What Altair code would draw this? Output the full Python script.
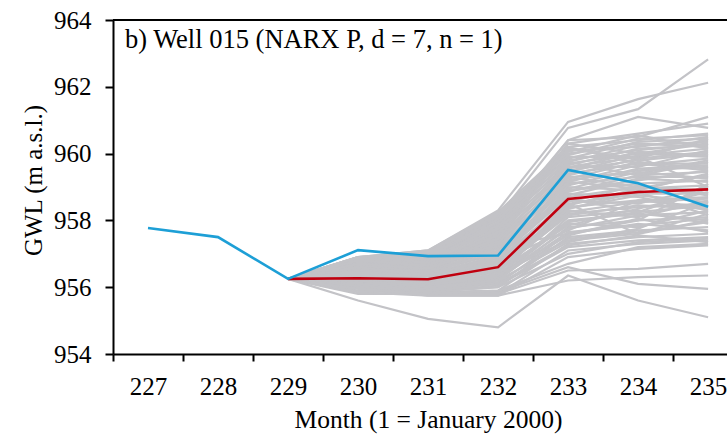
import altair as alt
import pandas as pd

months_obs = [227, 228, 229, 230, 231, 232, 233, 234, 235]
observed = [957.77, 957.5, 956.25, 957.11, 956.93, 956.95, 959.51, 959.11, 958.41]

months_fc = [229, 230, 231, 232, 233, 234, 235]
median = [956.25, 956.27, 956.24, 956.6, 958.64, 958.85, 958.93]

# ensemble members (months 229..235)
ensemble = [
    [956.25, 955.6, 955.05, 954.8, 956.35, 955.6, 955.1],
    [956.25, 955.8, 955.8, 955.8, 956.5, 956.55, 956.7],
    [956.25, 955.85, 955.75, 955.75, 956.2, 956.3, 956.35],
    [956.25, 955.9, 955.8, 955.85, 956.6, 956.1, 955.95],
    [956.25, 956.9, 957.1, 958.3, 960.95, 961.63, 962.12],
    [956.25, 956.8, 956.95, 958.1, 960.77, 961.33, 962.82],
    [956.25, 956.8, 957.0, 957.9, 960.4, 961.1, 960.77],
    [956.25, 956.75, 956.9, 957.8, 960.4, 960.5, 961.1],
    [956.25, 956.7, 956.85, 957.7, 960.3, 960.6, 960.9],
    [956.25, 956.0, 955.75, 955.75, 956.9, 957.15, 957.25],
    [956.25, 956.05, 955.8, 955.8, 957.1, 957.3, 957.4],
    [956.25, 956.1, 955.85, 955.9, 957.3, 957.5, 957.6],
    [956.25, 956.1, 955.9, 956.0, 957.5, 957.7, 957.8],
    [956.25, 956.15, 955.95, 956.1, 957.6, 957.9, 957.7],
    [956.25, 956.2, 956.0, 956.2, 957.8, 958.0, 958.1],
    [956.25, 956.2, 956.05, 956.3, 957.9, 957.8, 958.3],
    [956.25, 956.25, 956.1, 956.35, 958.0, 958.2, 958.0],
    [956.25, 956.3, 956.15, 956.45, 958.2, 958.4, 958.5],
    [956.25, 956.3, 956.2, 956.5, 958.3, 958.1, 958.6],
    [956.25, 956.35, 956.25, 956.6, 958.4, 958.6, 958.4],
    [956.25, 956.4, 956.3, 956.7, 958.5, 958.8, 958.8],
    [956.25, 956.4, 956.35, 956.8, 958.6, 958.5, 959.0],
    [956.25, 956.45, 956.4, 956.9, 958.7, 959.0, 958.9],
    [956.25, 956.5, 956.45, 957.0, 958.9, 959.1, 959.2],
    [956.25, 956.5, 956.5, 957.1, 959.0, 958.9, 959.4],
    [956.25, 956.55, 956.55, 957.2, 959.1, 959.3, 959.3],
    [956.25, 956.6, 956.6, 957.3, 959.2, 959.5, 959.6],
    [956.25, 956.6, 956.65, 957.4, 959.3, 959.4, 959.8],
    [956.25, 956.65, 956.7, 957.5, 959.4, 959.7, 959.7],
    [956.25, 956.7, 956.75, 957.6, 959.5, 959.8, 960.0],
    [956.25, 956.7, 956.8, 957.7, 959.6, 959.6, 960.1],
    [956.25, 956.75, 956.85, 957.8, 959.7, 960.0, 959.9],
    [956.25, 956.8, 956.9, 957.9, 959.8, 960.1, 960.3],
    [956.25, 956.8, 956.95, 958.0, 959.9, 959.9, 960.4],
    [956.25, 956.85, 957.0, 958.1, 960.0, 960.3, 960.2],
    [956.25, 956.85, 957.05, 958.2, 960.1, 960.2, 960.5],
    [956.25, 956.9, 957.1, 958.25, 960.2, 960.4, 960.6],
    [956.25, 956.3, 956.0, 956.4, 957.4, 957.6, 958.2],
    [956.25, 956.2, 955.9, 956.2, 958.1, 958.3, 957.9],
    [956.25, 956.5, 956.3, 956.8, 957.7, 958.6, 958.7],
    [956.25, 956.4, 956.2, 957.0, 958.8, 958.7, 958.3],
    [956.25, 956.6, 956.4, 957.2, 957.6, 958.0, 959.1],
    [956.25, 956.0, 955.85, 956.05, 957.2, 957.4, 957.5],
    [956.25, 956.7, 956.6, 957.5, 958.9, 959.2, 959.5],
    [956.25, 956.8, 956.7, 957.6, 960.2, 959.7, 959.5],
    [956.25, 956.3, 956.25, 956.6, 959.3, 959.0, 958.8],
    [956.25, 956.55, 956.5, 957.35, 960.3, 960.0, 960.3],
    [956.25, 956.45, 956.35, 956.9, 959.6, 959.9, 959.0],
    [956.25, 956.15, 956.0, 956.3, 958.5, 957.6, 958.0],
    [956.25, 955.95, 955.8, 955.9, 956.7, 957.2, 957.3],
    [956.25, 956.05, 955.85, 956.0, 957.0, 957.35, 957.45],
    [956.25, 956.1, 955.9, 956.1, 957.25, 957.55, 957.35],
    [956.25, 956.15, 955.95, 956.15, 957.45, 957.65, 957.95],
    [956.25, 956.2, 956.0, 956.25, 957.65, 957.85, 958.05],
    [956.25, 956.25, 956.05, 956.3, 957.75, 958.15, 958.25],
    [956.25, 956.3, 956.1, 956.4, 957.95, 958.25, 958.45],
    [956.25, 956.35, 956.15, 956.5, 958.15, 958.45, 958.35],
    [956.25, 956.4, 956.2, 956.55, 958.25, 958.55, 958.65],
    [956.25, 956.45, 956.25, 956.65, 958.35, 958.75, 958.55],
    [956.25, 956.5, 956.3, 956.75, 958.45, 958.95, 959.05],
    [956.25, 956.55, 956.35, 956.85, 958.55, 959.05, 958.75],
    [956.25, 956.6, 956.4, 956.95, 958.75, 959.25, 959.15],
    [956.25, 956.65, 956.45, 957.05, 958.85, 959.35, 959.45],
    [956.25, 956.7, 956.5, 957.15, 958.95, 959.45, 959.25],
    [956.25, 956.75, 956.55, 957.25, 959.05, 959.55, 959.65],
    [956.25, 956.8, 956.6, 957.35, 959.15, 959.65, 959.85],
    [956.25, 956.85, 956.65, 957.45, 959.25, 959.75, 959.55],
    [956.25, 956.9, 956.7, 957.55, 959.35, 959.85, 960.05],
    [956.25, 956.6, 956.75, 957.65, 959.45, 959.95, 960.15],
    [956.25, 956.65, 956.8, 957.75, 959.55, 960.05, 959.95],
    [956.25, 956.7, 956.85, 957.85, 959.65, 960.15, 960.25],
    [956.25, 956.75, 956.9, 957.95, 959.75, 960.25, 960.35],
    [956.25, 956.8, 956.95, 958.05, 959.85, 960.35, 960.45],
    [956.25, 956.85, 957.0, 958.15, 959.95, 960.45, 960.55],
    [956.25, 956.9, 957.05, 958.2, 960.05, 960.55, 960.15],
    [956.25, 956.4, 956.1, 956.5, 957.85, 958.35, 958.85],
    [956.25, 956.3, 956.05, 956.35, 957.55, 958.05, 957.65],
    [956.25, 956.5, 956.25, 956.7, 958.65, 958.25, 958.95],
    [956.25, 956.6, 956.35, 956.9, 959.15, 958.95, 959.35],
    [956.25, 956.45, 956.2, 956.6, 958.35, 958.85, 958.15],
    [956.25, 956.7, 956.55, 957.3, 959.75, 959.35, 959.75],
    [956.25, 956.8, 956.65, 957.45, 960.15, 959.85, 960.45],
    [956.25, 956.2, 956.0, 956.2, 957.35, 957.75, 958.55],
]

y_ticks = [954, 956, 958, 960, 962, 964]
x_ticks = [227, 228, 229, 230, 231, 232, 233, 234, 235]
panel_title = "b) Well 015 (NARX P, d = 7, n = 1)"

rows = []
for i, member in enumerate(ensemble):
    for m, v in zip(months_fc, member):
        rows.append({"month": m, "gwl": v, "member": i})
ens_df = pd.DataFrame(rows)
obs_df = pd.DataFrame({"month": months_obs, "gwl": observed})
med_df = pd.DataFrame({"month": months_fc, "gwl": median})

FONT = "Liberation Serif"
x_scale = alt.Scale(domain=[226.5, 235.27], nice=False, zero=False)
y_scale = alt.Scale(domain=[954, 964], nice=False, zero=False)

x_enc = alt.X(
    "month:Q", scale=x_scale,
    axis=alt.Axis(
        values=x_ticks, format="d", title="Month (1 = January 2000)",
        tickOffset=-35, labelOffset=35, labelFlush=False, grid=False,
        tickSize=7, tickWidth=2, domainWidth=2, domainColor="black", tickColor="black",
        labelFont=FONT, labelFontSize=25, labelColor="black", labelPadding=13,
        titleFont=FONT, titleFontSize=25.5, titleFontWeight="normal", titleColor="black",
        titlePadding=8, titleX=315,
    ),
)
y_enc = alt.Y(
    "gwl:Q", scale=y_scale,
    axis=alt.Axis(
        values=y_ticks, format="d", title="GWL (m a.s.l.)", grid=False,
        tickSize=8, tickWidth=2, domainWidth=2, domainColor="black", tickColor="black",
        labelFont=FONT, labelFontSize=25, labelColor="black", labelPadding=14,
        titleFont=FONT, titleFontSize=25, titleFontWeight="normal", titleColor="black",
        titlePadding=7, titleY=160,
    ),
)

gray = alt.Chart(ens_df).mark_line(color="#c3c3c7", strokeWidth=2.2, clip=True).encode(
    x=x_enc, y=y_enc, detail="member:N"
)
red = alt.Chart(med_df).mark_line(color="#c0000f", strokeWidth=2.6).encode(x="month:Q", y="gwl:Q")
blue = alt.Chart(obs_df).mark_line(color="#1d9fd6", strokeWidth=2.6).encode(x="month:Q", y="gwl:Q")
top_line = alt.Chart(pd.DataFrame({"y": [964]})).mark_rule(color="black", strokeWidth=2).encode(
    y="y:Q"
)
label = alt.Chart(pd.DataFrame({"t": [panel_title]})).mark_text(
    font=FONT, fontSize=26.5, color="black", align="left", baseline="alphabetic"
).encode(x=alt.value(12), y=alt.value(28), text="t:N")

chart = alt.layer(gray, red, blue, top_line, label).properties(
    width=614, height=334,
    autosize=alt.AutoSizeParams(type="none"),
    padding={"left": 113, "top": 20, "right": 0, "bottom": 82},
).configure_view(stroke=None)

chart.save("out.html", embed_options={"renderer": "svg", "actions": False})
